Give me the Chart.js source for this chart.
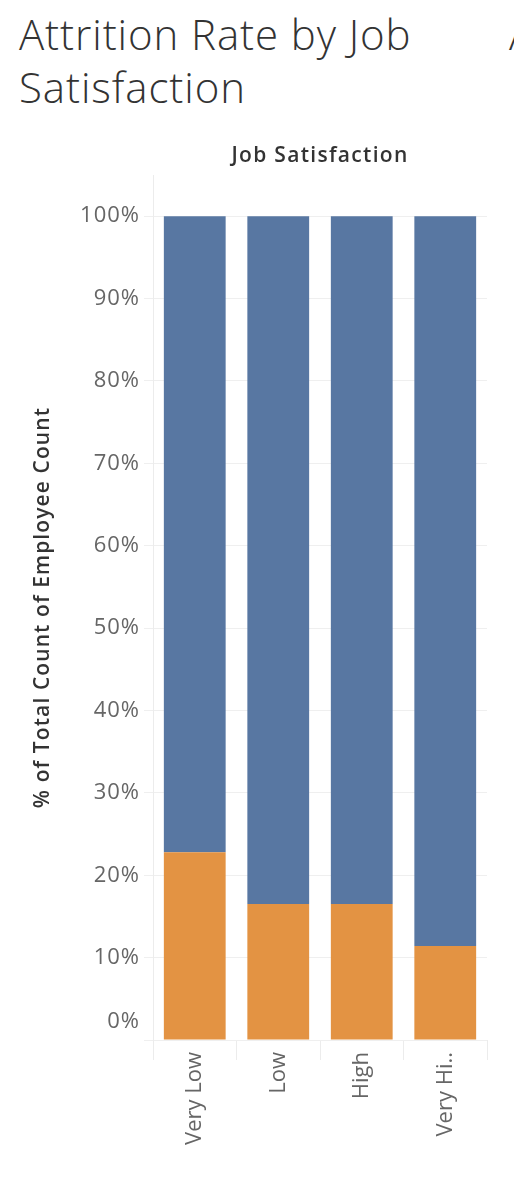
<!DOCTYPE html>
<html>
<head>
<meta charset="utf-8">
<script src="https://cdn.jsdelivr.net/npm/chart.js@4.4.1/dist/chart.umd.min.js"></script>
<style>
  html, body { margin: 0; padding: 0; background: #fff; overflow: hidden; }
  body { width: 514px; height: 1178px; position: relative; font-family: "Open Sans", sans-serif; }
  #title { position: absolute; left: 19px; top: 7px; width: 460px; font-size: 42px; font-weight: 300; line-height: 53px; letter-spacing: 0.9px; color: #333; }
  #cut { position: absolute; left: 509px; top: 7px; font-size: 42px; font-weight: 300; line-height: 53px; color: #333; }
  #wrap { position: absolute; left: 0; top: 0; width: 514px; height: 1178px; }
</style>
</head>
<body>
<div id="title">Attrition Rate by Job<br>Satisfaction</div>
<div id="cut">A</div>
<div id="wrap"><canvas id="chart"></canvas></div>
<script>
var categories = ['Very Low', 'Low', 'High', 'Very High'];
var tickText = ['Very Low', 'Low', 'High', 'Very Hi..'];
var attritionYes = [22.8, 16.5, 16.5, 11.4];
var attritionNo = [77.2, 83.5, 83.5, 88.6];
var yTicks = [0, 10, 20, 30, 40, 50, 60, 70, 80, 90, 100];

var grey = '#666666';
var font = '"Open Sans", sans-serif';

// y labels, axis title and header drawn by hand (Tableau-style placement)
var extraText = {
  id: 'extraText',
  afterDraw: function(chart) {
    var ctx = chart.ctx;
    var y = chart.scales.y;
    var area = chart.chartArea;
    ctx.save();
    ctx.font = '22px ' + font;
    ctx.letterSpacing = '1px';
    ctx.fillStyle = grey;
    ctx.textAlign = 'right';
    ctx.textBaseline = 'middle';
    yTicks.forEach(function(v) {
      var py = y.getPixelForValue(v);
      if (v === 0) py -= 18;
      ctx.fillText(v + '%', 140, py);
    });

    ctx.fillStyle = '#333';
    ctx.font = '600 21px ' + font;
    ctx.letterSpacing = '1.3px';
    ctx.textAlign = 'center';
    ctx.fillText('Job Satisfaction', (area.left + area.right) / 2, 156);

    ctx.translate(43, (area.top + area.bottom) / 2);
    ctx.rotate(-Math.PI / 2);
    ctx.font = '600 21px ' + font;
    ctx.letterSpacing = '1.1px';
    ctx.fillText('% of Total Count of Employee Count', 0, 0);
    ctx.restore();
  }
};

var ctx = document.getElementById('chart');
new Chart(ctx, {
  type: 'bar',
  data: {
    labels: categories,
    datasets: [
      {
        label: 'Yes',
        data: attritionYes,
        backgroundColor: '#e39343',
        barPercentage: 0.74,
        categoryPercentage: 1.0
      },
      {
        label: 'No',
        data: attritionNo,
        backgroundColor: '#5877a2',
        barPercentage: 0.74,
        categoryPercentage: 1.0
      }
    ]
  },
  options: {
    responsive: true,
    maintainAspectRatio: false,
    animation: false,
    layout: { padding: { left: 0, right: 27, top: 175, bottom: 0 } },
    plugins: {
      legend: { display: false },
      tooltip: { enabled: false }
    },
    scales: {
      x: {
        stacked: true,
        grid: { drawOnChartArea: false, drawTicks: true, tickLength: 20, offset: true, color: '#ececec' },
        border: { display: false },
        ticks: {
          maxRotation: 90, minRotation: 90,
          autoSkip: false,
          color: grey,
          font: { size: 22, family: font },
          padding: -8,
          callback: function(v, i) { return tickText[i]; }
        },
        afterFit: function(s) { s.height = 138; }
      },
      y: {
        stacked: true,
        min: 0,
        max: 105,
        afterBuildTicks: function(s) {
          s.ticks = yTicks.map(function(v) { return { value: v }; });
        },
        grid: { color: '#efefef', tickLength: 9, drawTicks: true },
        border: { display: true, color: '#ececec' },
        ticks: { display: false },
        afterFit: function(s) { s.width = 153; }
      }
    }
  },
  plugins: [extraText]
});
</script>
</body>
</html>
